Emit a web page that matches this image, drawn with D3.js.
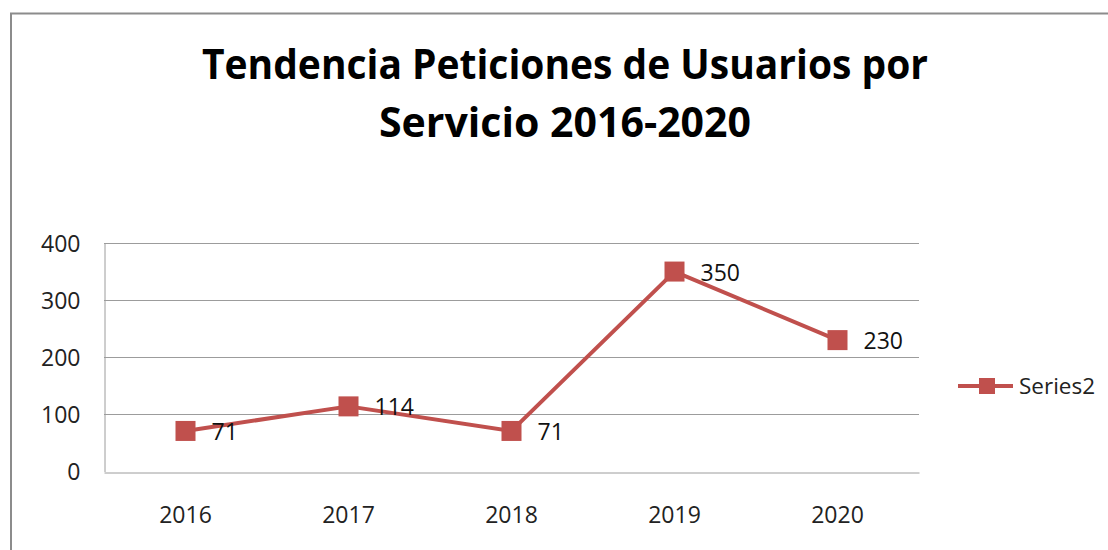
<!DOCTYPE html>
<html>
<head>
<meta charset="utf-8">
<script src="https://cdn.jsdelivr.net/npm/d3@7/dist/d3.min.js"></script>
<style>
  html, body { margin: 0; padding: 0; background: #fff; }
  svg { display: block; }
  text { font-family: "Open Sans", "Noto Sans", sans-serif; }
</style>
</head>
<body>
<svg id="chart" width="1108" height="550"></svg>
<script>
const titleLines = ["Tendencia Peticiones de Usuarios por", "Servicio 2016-2020"];
const categories = ["2016", "2017", "2018", "2019", "2020"];
const seriesName = "Series2";
const values = [71, 114, 71, 350, 230];
const yTicks = [0, 100, 200, 300, 400];

const svg = d3.select("#chart");
const color = "#C0504D";

// chart border (continues past right/bottom edges)
svg.append("rect")
  .attr("x", 11).attr("y", 13.5)
  .attr("width", 1200).attr("height", 600)
  .attr("fill", "#fff")
  .attr("stroke", "#8c8c8c").attr("stroke-width", 2);

// title
const titleWidths = [726, 372];
const title = svg.append("g");
titleLines.forEach((t, i) => {
  title.append("text")
    .attr("x", 565).attr("y", 79 + i * 58)
    .attr("text-anchor", "middle")
    .attr("font-size", 42).attr("font-weight", "bold")
    .attr("fill", "#000")
    .attr("textLength", titleWidths[i])
    .attr("lengthAdjust", "spacingAndGlyphs")
    .text(t);
});

const plot = { left: 104, right: 919, top: 243, bottom: 471.5 };

const x = d3.scaleBand().domain(categories).range([plot.left, plot.right]);
const y = d3.scaleLinear().domain([0, 400]).range([plot.bottom, plot.top]);

// gridlines
svg.append("g")
  .selectAll("line")
  .data(yTicks.filter(d => d > 0))
  .join("line")
  .attr("x1", plot.left).attr("x2", plot.right)
  .attr("y1", d => Math.round(y(d)) + 0.5).attr("y2", d => Math.round(y(d)) + 0.5)
  .attr("stroke", "#9c9c9c").attr("stroke-width", 1);

// y axis
const yAxis = svg.append("g")
  .attr("transform", `translate(${plot.left + 0.5},0)`)
  .call(d3.axisLeft(y).tickValues(yTicks).tickSize(0).tickPadding(24));
yAxis.select(".domain").attr("stroke", "#9c9c9c");
yAxis.selectAll("text")
  .attr("font-size", 23).attr("fill", "#222")
  .attr("font-family", "'Open Sans', sans-serif")
  .attr("dy", "0.35em");

// x axis
const xAxis = svg.append("g")
  .attr("transform", `translate(0,${Math.round(plot.bottom) + 0.5})`)
  .call(d3.axisBottom(x).tickSize(0).tickPadding(34));
xAxis.select(".domain").attr("stroke", "#9c9c9c");
xAxis.selectAll("text")
  .attr("font-size", 23).attr("fill", "#222")
  .attr("font-family", "'Open Sans', sans-serif");

const cx = d => x(d) + x.bandwidth() / 2;
const data = categories.map((c, i) => ({ c, v: values[i] }));

// line
svg.append("path")
  .datum(data)
  .attr("fill", "none")
  .attr("stroke", color).attr("stroke-width", 4)
  .attr("stroke-linejoin", "round")
  .attr("d", d3.line().x(d => cx(d.c)).y(d => y(d.v)));

// markers
const ms = 20;
svg.append("g").selectAll("rect")
  .data(data)
  .join("rect")
  .attr("x", d => cx(d.c) - ms / 2).attr("y", d => y(d.v) - ms / 2)
  .attr("width", ms).attr("height", ms)
  .attr("fill", color);

// data labels
svg.append("g").selectAll("text")
  .data(data)
  .join("text")
  .attr("x", d => cx(d.c) + 26)
  .attr("y", d => y(d.v) + 9)
  .attr("font-size", 23).attr("fill", "#111")
  .text(d => d.v);

// legend
const lg = svg.append("g").attr("transform", "translate(958,386)");
lg.append("line").attr("x1", 0).attr("x2", 55).attr("y1", 0).attr("y2", 0)
  .attr("stroke", color).attr("stroke-width", 4);
lg.append("rect").attr("x", 21).attr("y", -8).attr("width", 16).attr("height", 16)
  .attr("fill", color);
lg.append("text").attr("x", 61).attr("y", 8)
  .attr("font-size", 22.5).attr("fill", "#222")
  .text(seriesName);
</script>
</body>
</html>
